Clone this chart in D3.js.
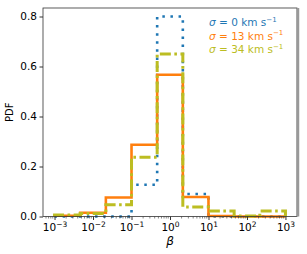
<!DOCTYPE html>
<html>
<head>
<meta charset="utf-8">
<script src="https://cdn.jsdelivr.net/npm/d3@7"></script>
<style>
  body { margin: 0; background: #fff; }
  svg text { font-family: "DejaVu Sans", sans-serif; }
</style>
</head>
<body>
<svg id="chart" width="307" height="254"></svg>
<script>
// bin edges in log10(beta)
const binEdges = [-3, -7/3, -5/3, -1, -1/3, 1/3, 1, 5/3, 7/3, 3];
const series = [
  { name: "0",  color: "#1f77b4", dash: "2.5,5.6", width: 2.6,
    values: [0, 0, 0, 0.127, 0.80, 0.090, 0, 0, 0] },
  { name: "13", color: "#ff7f0e", dash: null, width: 2.6,
    values: [0.003, 0.015, 0.076, 0.287, 0.567, 0.078, 0.002, 0, 0] },
  { name: "34", color: "#bcbd22", dash: "11,3.5,2.6,3.5", width: 3,
    values: [0.006, 0.012, 0.047, 0.237, 0.650, 0.038, 0.022, 0.002, 0.022] }
];
const xTicks = [-3, -2, -1, 0, 1, 2, 3];
const yTicks = [0, 0.2, 0.4, 0.6, 0.8];

const m = { left: 43, right: 297, top: 8, bottom: 216.5 };
const svg = d3.select("#chart");

const x = d3.scaleLinear().domain([-3.3, 3.3]).range([m.left, m.right]);
const y = d3.scaleLinear().domain([0, 0.834]).range([m.bottom, m.top]);

// step outlines
const g = svg.append("g");
series.forEach(s => {
  const pts = [[binEdges[0], 0]];
  s.values.forEach((v, i) => { pts.push([binEdges[i], v]); pts.push([binEdges[i + 1], v]); });
  pts.push([binEdges[binEdges.length - 1], 0]);
  g.append("path")
    .attr("d", d3.line().x(d => x(d[0])).y(d => y(d[1]))(pts))
    .attr("fill", "none").attr("stroke", s.color)
    .attr("stroke-width", s.width)
    .attr("stroke-dasharray", s.dash)
    .attr("stroke-linejoin", "miter");
});

// minor ticks
const minor = [];
for (let d = -4; d <= 3; d++) for (let k = 2; k <= 9; k++) {
  const v = d + Math.log10(k);
  if (v > -3.3 && v < 3.3) minor.push(v);
}
svg.append("g").selectAll("line").data(minor).join("line")
  .attr("x1", d => x(d)).attr("x2", d => x(d))
  .attr("y1", m.bottom).attr("y2", m.bottom + 2)
  .attr("stroke", "#333").attr("stroke-width", 0.6);

// x axis
const xa = svg.append("g").attr("transform", `translate(0,${m.bottom})`)
  .call(d3.axisBottom(x).tickValues(xTicks).tickSize(3.5).tickFormat(""));
xa.select(".domain").remove();
xa.selectAll(".tick line").attr("stroke", "#333");
xa.selectAll(".tick").append("text")
  .attr("fill", "#000").attr("y", 14.8).attr("dy", 0).attr("text-anchor", "middle")
  .style("font-size", "10.5px")
  .each(function (d) {
    const t = d3.select(this);
    t.append("tspan").text("10");
    t.append("tspan").attr("dy", -4.8).style("font-size", "7.5px")
      .text(d < 0 ? "\u2212" + (-d) : d);
  });

// y axis
const ya = svg.append("g").attr("transform", `translate(${m.left},0)`)
  .call(d3.axisLeft(y).tickValues(yTicks).tickSize(3.5).tickFormat(d3.format(".1f")));
ya.select(".domain").remove();
ya.selectAll(".tick line").attr("stroke", "#333");
ya.selectAll(".tick text").attr("fill", "#000").attr("x", -6).style("font-size", "10.5px");

// frame
svg.append("rect").attr("x", m.left).attr("y", m.top)
  .attr("width", m.right - m.left).attr("height", m.bottom - m.top)
  .attr("fill", "none").attr("stroke", "#333").attr("stroke-width", 0.8);
svg.append("line").attr("x1", m.right + 1).attr("x2", m.right + 1)
  .attr("y1", m.top).attr("y2", m.bottom)
  .attr("stroke", "#999").attr("stroke-width", 2.5);

// axis labels
svg.append("text").attr("transform", `translate(12.5,${(m.top + m.bottom) / 2}) rotate(-90)`)
  .attr("text-anchor", "middle").style("font-size", "10px").text("PDF");
svg.append("text").attr("x", x(0)).attr("y", 245).attr("text-anchor", "middle")
  .style("font-size", "12px").style("font-style", "italic").text("\u03b2");

// legend
const lg = svg.append("g");
series.forEach((s, i) => {
  const t = lg.append("text").attr("x", 209).attr("y", 26 + i * 13.5)
    .attr("fill", s.color).style("font-size", "10.5px");
  t.append("tspan").style("font-style", "italic").text("\u03c3");
  t.append("tspan").text(" = " + s.name + " km s");
  t.append("tspan").attr("dy", -4.2).style("font-size", "7px").text("\u22121");
});
</script>
</body>
</html>
